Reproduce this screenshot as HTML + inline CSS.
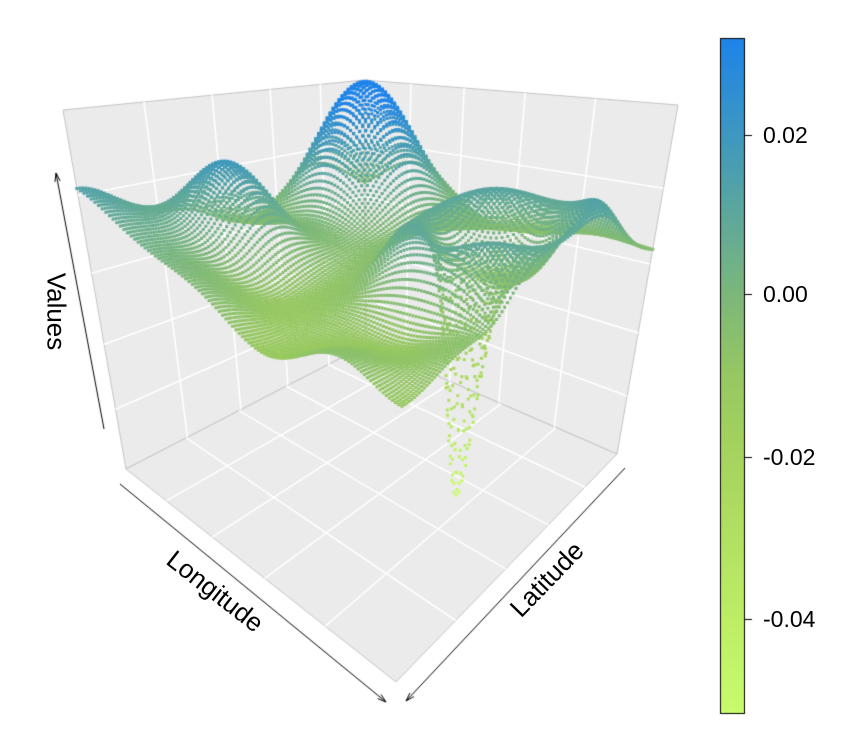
<!DOCTYPE html>
<html><head><meta charset="utf-8">
<style>
html,body{margin:0;padding:0;background:#fff;}
#wrap{position:relative;width:847px;height:752px;overflow:hidden;font-family:"Liberation Sans",Arial,sans-serif;}
canvas{position:absolute;left:0;top:0;}
.lbl{position:absolute;font-size:26px;color:#000;white-space:nowrap;transform-origin:center center;}
.tk{position:absolute;left:763px;font-size:23px;color:#000;}
</style></head>
<body><div id="wrap">
<canvas id="c" width="847" height="752"></canvas>
<div class="lbl" style="left:16px;top:296px;width:80px;text-align:center;transform:rotate(90deg);">Values</div>
<div class="lbl" style="left:155px;top:576px;width:120px;text-align:center;transform:rotate(38deg);">Longitude</div>
<div class="lbl" style="left:492px;top:564px;width:110px;text-align:center;transform:rotate(-46deg);">Latitude</div>
<div class="tk" style="top:122px;">0.02</div>
<div class="tk" style="top:281px;">0.00</div>
<div class="tk" style="top:444px;">-0.02</div>
<div class="tk" style="top:606px;">-0.04</div>
</div>
<script>
const cv=document.getElementById('c');const ctx=cv.getContext('2d');
function sq2quad(p0,p1,p2,p3){
  const [x0,y0]=p0,[x1,y1]=p1,[x2,y2]=p2,[x3,y3]=p3;
  const dx1=x1-x2,dx2=x3-x2,dx3=x0-x1+x2-x3,dy1=y1-y2,dy2=y3-y2,dy3=y0-y1+y2-y3;
  const den=dx1*dy2-dx2*dy1;
  const g=(dx3*dy2-dx2*dy3)/den,h=(dx1*dy3-dx3*dy1)/den;
  const a=x1-x0+g*x1,b=x3-x0+h*x3,c=x0,d=y1-y0+g*y1,e=y3-y0+h*y3,f=y0;
  return (u,v)=>{const w=g*u+h*v+1;return [(a*u+b*v+c)/w,(d*u+e*v+f)/w];};
}
const Bf=[366,345],Rf=[617,454],Ff=[396,682],Lf=[126,469];
const Bt=[364,80],Rt=[678,105],Ft=[407,158],Lt=[63,110];
function poly(pts,fill,stroke){ctx.beginPath();ctx.moveTo(pts[0][0],pts[0][1]);for(let i=1;i<pts.length;i++)ctx.lineTo(pts[i][0],pts[i][1]);ctx.closePath();if(fill){ctx.fillStyle=fill;ctx.fill();}if(stroke){ctx.strokeStyle=stroke;ctx.lineWidth=1;ctx.stroke();}}
poly([Lt,Bt,Bf,Lf],'#ebebeb','#c4c4c4');
poly([Bt,Rt,Rf,Bf],'#ebebeb','#c4c4c4');
poly([Bf,Rf,Ff,Lf],'#ebebeb','#c4c4c4');
function grid(H,n){
  ctx.strokeStyle='#ffffff';ctx.lineWidth=1.6;
  for(let i=1;i<n;i++){const t=i/n;
    let p=H(t,0),q=H(t,1);ctx.beginPath();ctx.moveTo(p[0],p[1]);ctx.lineTo(q[0],q[1]);ctx.stroke();
    p=H(0,t);q=H(1,t);ctx.beginPath();ctx.moveTo(p[0],p[1]);ctx.lineTo(q[0],q[1]);ctx.stroke();}
}
grid(sq2quad(Bf,Lf,Lt,Bt),5);
grid(sq2quad(Bf,Rf,Rt,Bt),5);
grid(sq2quad(Bf,Rf,Ff,Lf),5);
function arrow(x1,y1,x2,y2){ctx.strokeStyle='#000';ctx.lineWidth=1;ctx.beginPath();ctx.moveTo(x1,y1);ctx.lineTo(x2,y2);ctx.stroke();
  const an=Math.atan2(y2-y1,x2-x1),L=9,s=0.3;ctx.beginPath();
  ctx.moveTo(x2-L*Math.cos(an-s),y2-L*Math.sin(an-s));ctx.lineTo(x2,y2);ctx.lineTo(x2-L*Math.cos(an+s),y2-L*Math.sin(an+s));ctx.stroke();}
arrow(104,429,56,173);
arrow(120,484,386,702);
arrow(625,468,406,701);
const stops=[[-0.0517,[200,252,108]],[-0.04,[189,238,102]],[-0.02,[166,212,94]],[-0.01,[151,200,98]],[0,[125,184,122]],[0.01,[94,168,156]],[0.02,[62,152,192]],[0.032,[30,132,234]]];
function col(z){if(z<=stops[0][0])return stops[0][1];for(let i=1;i<stops.length;i++){if(z<=stops[i][0]){const t=(z-stops[i-1][0])/(stops[i][0]-stops[i-1][0]);const A=stops[i-1][1],B=stops[i][1];return [A[0]+t*(B[0]-A[0]),A[1]+t*(B[1]-A[1]),A[2]+t*(B[2]-A[2])];}}return stops[stops.length-1][1];}
for(let y=38;y<713;y++){const z=0.032-(y-38)/(713-38)*(0.032+0.0517);const c=col(z);ctx.fillStyle=`rgb(${c[0]|0},${c[1]|0},${c[2]|0})`;ctx.fillRect(720,y,25,1);}
ctx.strokeStyle='#000';ctx.lineWidth=1;ctx.strokeRect(720.5,38.5,24,675);
[135,294,457,619].forEach(y=>{ctx.beginPath();ctx.moveTo(745,y+.5);ctx.lineTo(752,y+.5);ctx.stroke();});
function bil(P,a,b){const wB=(1-a)*(1-b),wR=a*(1-b),wL=(1-a)*b,wF=a*b;return [P[0][0]*wB+P[1][0]*wR+P[2][0]*wL+P[3][0]*wF,P[0][1]*wB+P[1][1]*wR+P[2][1]*wL+P[3][1]*wF];}
const FL=[Bf,Rf,Lf,Ff],TP=[Bt,Rt,Lt,Ft];
function G(dx,dy,s){return Math.exp(-(dx*dx+dy*dy)/(2*s*s));}
function Z(a,b){
  let z=-0.008;
  z+=0.044*G(a-.17,b-.17,.12);
  z+=0.024*G(a-.15,b-.62,.1);
  const r=Math.hypot(a-.78,b-.36);
  z+=0.018*Math.exp(-(r-.22)*(r-.22)/(2*.07*.07));
  z-=0.054*G(a-.78,b-.48,.04);
  z+=0.022*G(a,b-1,.18);
  z+=0.003*G(a-1,b,.2);
  z-=0.004*G(a-.55,b-.8,.12);
  z+=0.0025*Math.sin(a*14)*Math.sin(b*11);
  return z;
}
const N=100,pts=[];
for(let i=0;i<N;i++)for(let j=0;j<N;j++){const a=i/(N-1),b=j/(N-1);const z=Z(a,b);const w=(z+0.061)/0.096;
  const f=bil(FL,a,b),t=bil(TP,a,b);pts.push([a+b,f[0]+w*(t[0]-f[0]),f[1]+w*(t[1]-f[1]),z]);}
pts.sort((p,q)=>p[0]-q[0]);
for(const p of pts){const c=col(p[3]);ctx.fillStyle=`rgb(${c[0]|0},${c[1]|0},${c[2]|0})`;ctx.fillRect(p[1]-1.5,p[2]-1.5,3,3);}
</script>
</body></html>
